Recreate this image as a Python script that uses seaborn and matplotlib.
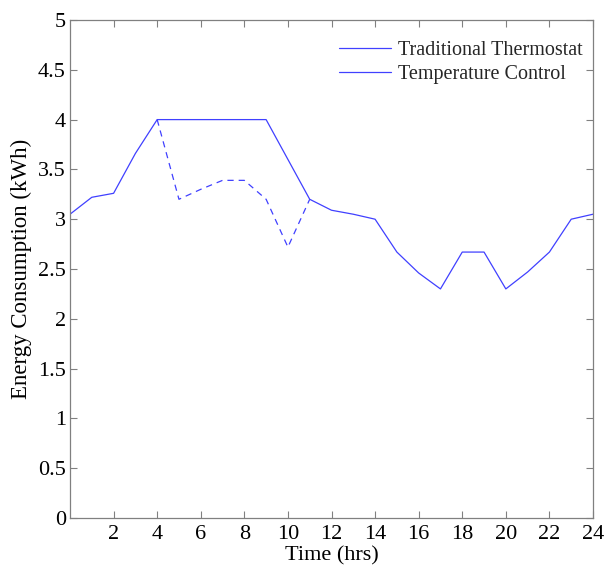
import matplotlib
matplotlib.use("Agg")
import matplotlib.pyplot as plt
import seaborn as sns
import pandas as pd
import numpy as np
from matplotlib.lines import Line2D

hours = list(range(25))
traditional = [3.05, 3.22, 3.26, 3.66, 4.0, 4.0, 4.0, 4.0, 4.0, 4.0, 3.6, 3.2,
               3.09, 3.05, 3.0, 2.67, 2.46, 2.3, 2.67, 2.67, 2.3, 2.47, 2.67, 3.0, 3.05]
control_hours = [4, 5, 6, 7, 8, 9, 10, 11]
control = [4.0, 3.2, 3.3, 3.39, 3.39, 3.2, 2.72, 3.2]
x_ticks = list(range(2, 25, 2))
y_ticks = [0, 0.5, 1, 1.5, 2, 2.5, 3, 3.5, 4, 4.5, 5]
y_labels = ["0", "0.5", "1", "1.5", "2", "2.5", "3", "3.5", "4", "4.5", "5"]

sns.set_theme(style="white")
plt.rcParams['font.family'] = ['Liberation Serif', 'DejaVu Serif']

df_t = pd.DataFrame({"Time": hours, "Energy": traditional})
df_c = pd.DataFrame({"Time": control_hours, "Energy": control})

fig = plt.figure(figsize=(6.06, 5.68), dpi=100)
ax = fig.add_axes([70/606, 50/568, 523/606, 498/568])
col = "#4040ff"
sns.lineplot(data=df_c, x="Time", y="Energy", ax=ax, color=col, lw=0.9,
             linestyle=(0, (5, 4)))
sns.lineplot(data=df_t, x="Time", y="Energy", ax=ax, color=col, lw=0.9)

ax.set_xlim(0, 24)
ax.set_ylim(0, 5)
ax.set_xticks(x_ticks)
ax.set_xticklabels([str(v) for v in x_ticks])
ax.set_yticks(y_ticks)
ax.set_yticklabels(y_labels)
ax.tick_params(axis='both', direction='in', length=5, width=0.8, color='#808080',
               labelsize=16, labelcolor='black', top=True, right=True,
               bottom=True, left=True, pad=3)
ax.tick_params(axis='x', pad=5)
for s in ax.spines.values():
    s.set_color('#808080')
    s.set_linewidth(0.9)
    s.set_visible(True)
ax.set_xlabel("Time (hrs)", fontsize=16, color='black', labelpad=2)
ax.set_ylabel("Energy Consumption (kWh)", fontsize=16.5, color='black', labelpad=4)

handles = [Line2D([], [], color=col, lw=0.9), Line2D([], [], color=col, lw=0.9)]
ax.legend(handles, ["Traditional Thermostat", "Temperature Control"], loc='upper right',
          bbox_to_anchor=(1.015, 0.995),
          frameon=False, fontsize=14.5, handlelength=2.6, handletextpad=0.35,
          labelspacing=0.27, borderaxespad=0.5, borderpad=0.4)
fig.savefig("out.png", dpi=100)
